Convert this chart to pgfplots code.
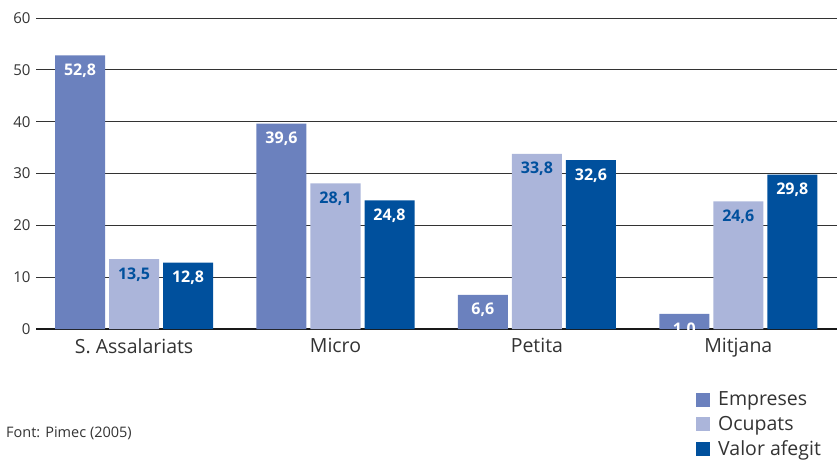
\documentclass[border=0pt]{standalone}
\usepackage{fontspec}
\setmainfont{Open Sans}
\usepackage{pgfplots}
\usepackage{pgfplotstable}
\pgfplotsset{compat=1.18}
\definecolor{cEmp}{HTML}{6B81BE}
\definecolor{cOcu}{HTML}{ABB5DA}
\definecolor{cVal}{HTML}{00509D}
\definecolor{txt}{HTML}{333333}

\pgfplotstableread{
x y lab
0 52.8 52,8
1 39.6 39,6
2 6.6 6,6
3 2.9 1,0
}\empreses
\pgfplotstableread{
x y lab
0 13.5 13,5
1 28.1 28,1
2 33.8 33,8
3 24.6 24,6
}\ocupats
\pgfplotstableread{
x y lab
0 12.8 12,8
1 24.8 24,8
2 32.6 32,6
3 29.8 29,8
}\valor

\begin{document}
\begin{tikzpicture}[x=1pt,y=1pt]
\useasboundingbox (0,0) rectangle (837,464);
\begin{axis}[
  at={(36pt,135pt)}, anchor=south west,
  scale only axis, width=801pt, height=311pt,
  ybar=4pt, bar width=50pt,
  xmin=-0.487, xmax=3.49, ymin=0, ymax=60,
  xtick={0,1,2,3},
  xticklabels={S. Assalariats, Micro, Petita, Mitjana},
  ytick={10,20,...,60},
  extra y ticks={0},
  extra y tick style={grid style={black!90, line width=2.6pt}},
  ymajorgrids,
  grid style={black!80, line width=0.9pt},
  axis line style={draw=none},
  major tick length=0pt,
  /pgf/number format/assume math mode=true,
  yticklabel style={font=\fontsize{15}{15}\selectfont, text=txt, xshift=-2pt},
  xticklabel style={font=\fontsize{19.5}{19.5}\selectfont, text=txt, yshift=-6pt},
  nodes near coords,
  point meta=explicit symbolic,
  every node near coord/.append style={anchor=north, yshift=-5pt,
    font=\bfseries\fontsize{16}{16}\selectfont, text=white},
  legend image code/.code={\fill[#1] (0pt,-7pt) rectangle (14pt,7pt);},
  legend style={at={(0.824,-0.195)}, anchor=north west, draw=none, fill=none,
    font=\fontsize{19.5}{19.5}\selectfont, text=txt, row sep=5pt, inner sep=0pt,
    /tikz/every even column/.append style={column sep=0pt},
    /tikz/every odd column/.append style={column sep=6pt}},
  legend cell align=left,
]
\addplot[fill=cEmp, draw=none] table[x=x, y=y, meta=lab]{\empreses};
\addplot[fill=cOcu, draw=none, every node near coord/.append style={text=cVal}] table[x=x, y=y, meta=lab]{\ocupats};
\addplot[fill=cVal, draw=none] table[x=x, y=y, meta=lab]{\valor};
\legend{Empreses, Ocupats, Valor afegit}
\end{axis}
\node[anchor=west, font=\fontsize{14.5}{14.5}\selectfont, text=txt, inner sep=0pt] at (6,31) {Font: Pimec (2005)};
\end{tikzpicture}
\end{document}
